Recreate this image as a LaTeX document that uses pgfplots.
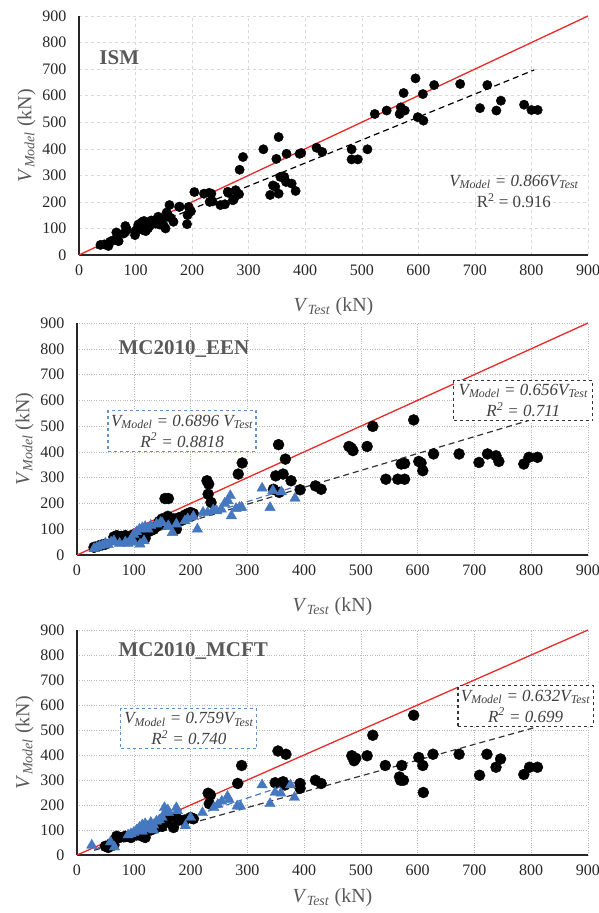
\documentclass[border=0pt]{standalone}
\usepackage{fontspec}
\setmainfont{Liberation Serif}
\usepackage{pgfplots}
\pgfplotsset{compat=1.18}
\definecolor{TriBlue}{RGB}{70,120,192}
\definecolor{BoxBlue}{RGB}{95,145,205}
\definecolor{LineRed}{RGB}{235,40,40}
\definecolor{TxtGray}{RGB}{89,89,89}
\definecolor{EqGray}{RGB}{64,64,64}

\newcommand{\fs}[1]{\fontsize{#1}{#1}\selectfont}
\newcommand{\Vsub}[1]{\textit{V}\textsubscript{\textit{#1}}}

\tikzset{
  eqbox/.style={dashed, line width=1.1pt, fill=white, font=\fontsize{17}{21}\selectfont\itshape,
    text=EqGray, align=center, inner xsep=3pt, inner ysep=4pt},
  regline/.style={dash pattern=on 6pt off 4pt, line width=1.2pt},
}
\pgfplotsset{
  panel/.style={
    scale only axis,
    xmin=0, xmax=900, ymin=0, ymax=900,
    xtick={0,100,...,900}, ytick={0,100,...,900},
    axis x line*=bottom, axis y line*=left,
    axis line style={-, line width=1.2pt, black!85},
    major tick length=0pt,
    grid=major,
    clip=false,
    /pgf/number format/assume math mode=true,
    tick label style={font=\fs{16}, color=black!85},
    xticklabel style={yshift=-6pt},
    yticklabel style={xshift=-9pt},
    label style={font=\fs{20}, color=TxtGray},
    ylabel style={yshift=0pt},
    xlabel={\Vsub{Test} (kN)},
    ylabel={\Vsub{Model} (kN)},
  },
  circ/.style={only marks, mark=*, mark size=#1, black, mark options={fill=black}},
  tri/.style={only marks, mark=triangle*, mark size=6, color=TriBlue, mark options={fill=TriBlue}},
}

\begin{document}
\begin{tikzpicture}
\useasboundingbox (0,0) rectangle (599pt,913pt);

% ---------------- ISM ----------------
\begin{axis}[panel, at={(79pt,658pt)}, anchor=south west, width=509pt, height=239pt,
  grid style={dashed, gray!30}, xlabel style={yshift=-15pt}]
  \addplot[LineRed, line width=1.3pt] coordinates {(0,0) (900,900)};
  \addplot[black, regline] coordinates {(30,26) (805,697)};
  \addplot[circ=4.7] coordinates {
    (38,38) (45,40) (52,34) (55,50) (60,55) (66,85) (69,54) (70,52) (79,81) (82,109)
    (85,95) (99,75) (100,90) (103,100) (105,115) (108,110) (109,119) (110,105) (112,125) (113,94)
    (115,128) (116,125) (118,90) (120,120) (122,100) (125,110) (128,130) (130,118) (132,122) (135,118)
    (138,135) (140,144) (142,115) (145,125) (148,135) (150,110) (153,100) (155,160) (157,150) (160,188)
    (162,140) (167,125) (177,181) (178,182) (191,116) (192,150) (194,181) (196,163) (198,165) (204,237)
    (221,231) (230,234) (231,200) (234,231) (236,202) (250,188) (258,191) (263,238) (264,234) (272,206)
    (274,211) (277,244) (283,229) (284,321) (290,369) (326,398) (338,226) (343,262) (347,257) (349,362)
    (353,444) (353,231) (356,294) (358,295) (363,294) (366,275) (367,381) (376,269) (383,241) (390,381)
    (393,384) (420,404) (430,388) (482,398) (482,360) (493,360) (510,398) (523,531) (544,544) (567,531)
    (569,556) (576,544) (574,610) (595,665) (599,519) (608,606) (609,506) (628,640) (674,644) (709,553)
    (722,640) (738,544) (746,581) (787,566) (800,546) (811,546)
  };
  \node[font=\fs{21}\bfseries, text=TxtGray, anchor=west] at (axis cs:30,745) {ISM};
  \node[font=\fontsize{17}{21}\selectfont, text=EqGray, align=center] at (axis cs:769,240)
    {\itshape \Vsub{Model} = 0.866\Vsub{Test}\\ \upshape R\textsuperscript{2} = 0.916};
\end{axis}

% ---------------- MC2010_EEN ----------------
\begin{axis}[panel, at={(77pt,358pt)}, anchor=south west, width=511pt, height=232pt,
  grid style={dotted, gray!55}, xlabel style={yshift=-15pt}]
  \addplot[LineRed, line width=1.3pt] coordinates {(0,0) (900,900)};
  \addplot[black!80, regline] coordinates {(30,20) (805,528)};
  \addplot[TriBlue, regline] coordinates {(30,21) (390,269)};
  \addplot[circ=5.5] coordinates {
    (30,30) (38,35) (45,40) (50,42) (65,70) (70,75) (78,72) (85,75) (90,60) (95,68)
    (100,78) (105,70) (110,75) (115,80) (120,65) (125,90) (130,95) (135,100) (140,110) (145,130)
    (150,140) (155,120) (160,150) (165,125) (170,140) (175,100) (180,145) (185,135) (190,155) (195,160)
    (200,165) (205,160) (155,219) (161,219) (229,288) (232,275) (231,236) (236,204) (284,314) (291,357)
    (346,255) (350,307) (355,428) (356,243) (363,314) (367,372) (377,288) (393,253) (420,268) (430,255)
    (479,421) (483,415) (486,405) (511,421) (521,499) (544,294) (565,294) (571,353) (577,294) (577,355)
    (593,524) (602,363) (606,357) (609,327) (628,392) (673,392) (708,359) (723,392) (738,385) (743,363)
    (787,353) (796,379) (811,379)
  };
  \addplot[tri] coordinates {
    (30,25) (35,30) (40,35) (45,38) (50,45) (55,40) (60,50) (65,55) (75,45) (85,50)
    (90,45) (95,60) (100,80) (100,50) (105,90) (110,100) (111,42) (115,105) (118,55) (120,110)
    (125,100) (130,115) (140,120) (147,126) (150,125) (160,110) (161,113) (168,87) (175,120) (190,132)
    (195,140) (205,150) (212,100) (222,165) (230,165) (240,175) (246,171) (254,178) (260,200) (266,210)
    (270,230) (272,152) (280,180) (286,184) (290,185) (326,259) (340,184) (345,250) (360,245) (384,220)
  };
  \node[font=\fs{21}\bfseries, text=TxtGray, anchor=west] at (axis cs:67,799) {MC2010\_EEN};
  \node[eqbox, draw=BoxBlue, minimum width=148pt] at (axis cs:185,481)
    {\Vsub{Model} = 0.6896 \Vsub{Test}\\ R\textsuperscript{2} = 0.8818};
  \node[eqbox, draw=black!80, minimum width=139pt] at (axis cs:786,600)
    {\Vsub{Model} = 0.656\Vsub{Test}\\ R\textsuperscript{2} = 0.711};
\end{axis}

% ---------------- MC2010_MCFT ----------------
\begin{axis}[panel, at={(77pt,58pt)}, anchor=south west, width=511pt, height=225pt,
  grid style={dotted, gray!55}, xlabel style={yshift=-6pt}]
  \addplot[LineRed, line width=1.3pt] coordinates {(0,0) (900,900)};
  \addplot[black!80, regline] coordinates {(30,19) (805,509)};
  \addplot[TriBlue, regline] coordinates {(30,23) (390,296)};
  \addplot[circ=5.5] coordinates {
    (50,35) (55,30) (60,45) (65,40) (70,75) (75,70) (85,75) (95,70) (105,80) (115,75)
    (120,70) (130,100) (140,110) (150,115) (155,130) (160,145) (170,110) (175,150) (180,140) (190,140)
    (200,150) (205,145) (231,247) (233,205) (235,240) (283,286) (290,358) (349,289) (354,416) (363,293)
    (366,280) (368,403) (393,286) (393,267) (420,299) (430,286) (484,397) (488,377) (491,387) (511,397)
    (521,479) (543,358) (568,312) (570,299) (572,358) (575,299) (593,559) (602,390) (609,358) (610,250)
    (627,403) (673,403) (709,319) (722,403) (738,351) (746,384) (787,322) (797,351) (811,351)
  };
  \addplot[tri] coordinates {
    (26,39) (59,52) (66,32) (90,80) (95,85) (100,90) (105,100) (110,110) (115,95) (115,120)
    (120,125) (125,105) (125,115) (130,130) (135,100) (135,120) (140,135) (145,140) (150,150) (154,189)
    (155,170) (160,180) (161,169) (175,189) (177,176) (191,117) (200,150) (221,169) (241,189) (248,202)
    (255,215) (265,234) (268,221) (282,195) (288,195) (326,280) (340,205) (349,250) (359,247) (376,280)
    (383,230)
  };
  \node[font=\fs{21}\bfseries, text=TxtGray, anchor=west] at (axis cs:67,816) {MC2010\_MCFT};
  \node[eqbox, draw=BoxBlue, minimum width=136pt] at (axis cs:197,506)
    {\Vsub{Model} = 0.759\Vsub{Test}\\ R\textsuperscript{2} = 0.740};
  \node[eqbox, draw=black!80, minimum width=135pt] at (axis cs:790,596)
    {\Vsub{Model} = 0.632\Vsub{Test}\\ R\textsuperscript{2} = 0.699};
\end{axis}
\end{tikzpicture}
\end{document}
